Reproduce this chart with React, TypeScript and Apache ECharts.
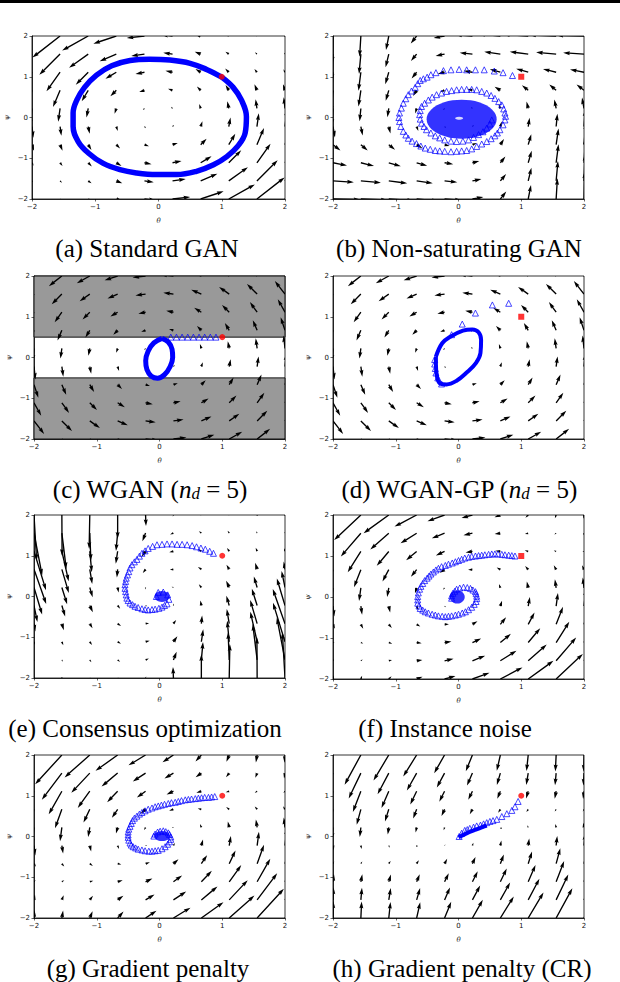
import React, { useEffect, useRef } from "react";
import * as echarts from "echarts";

// ---------- grid of the vector fields ----------
const THETA_COLS = [-2, -1.556, -1.111, -0.667, -0.222, 0.222, 0.667, 1.111, 1.556, 2];
const PSI_ROWS = [2, 1.556, 1.111, 0.667, 0.222, -0.222, -0.667, -1.111, -1.556, -2];
const AXIS_RANGE = [-2, 2];
const WGAN_CLIP = [0.5, -0.5];

// (a) Standard GAN
const A_U = [
  [-1.96, -1.91, -1.8, -1.58, -1.22, -0.78, -0.42, -0.2, -0.09, -0.04],
  [-1.49, -1.43, -1.32, -1.15, -0.91, -0.64, -0.41, -0.23, -0.13, -0.07],
  [-1.0, -0.94, -0.86, -0.75, -0.62, -0.49, -0.36, -0.25, -0.17, -0.11],
  [-0.53, -0.49, -0.45, -0.41, -0.36, -0.31, -0.26, -0.22, -0.17, -0.14],
  [-0.14, -0.13, -0.12, -0.12, -0.11, -0.11, -0.1, -0.1, -0.09, -0.09],
  [0.09, 0.09, 0.1, 0.1, 0.11, 0.11, 0.12, 0.12, 0.13, 0.14],
  [0.14, 0.17, 0.22, 0.26, 0.31, 0.36, 0.41, 0.45, 0.49, 0.53],
  [0.11, 0.17, 0.25, 0.36, 0.49, 0.62, 0.75, 0.86, 0.94, 1.0],
  [0.07, 0.13, 0.23, 0.41, 0.64, 0.91, 1.15, 1.32, 1.43, 1.49],
  [0.04, 0.09, 0.2, 0.42, 0.78, 1.22, 1.58, 1.8, 1.91, 1.96],
];
const A_V = [
  [-1.96, -1.49, -1.0, -0.53, -0.14, 0.09, 0.14, 0.11, 0.07, 0.04],
  [-1.91, -1.43, -0.94, -0.49, -0.13, 0.09, 0.17, 0.17, 0.13, 0.09],
  [-1.8, -1.32, -0.86, -0.45, -0.12, 0.1, 0.22, 0.25, 0.23, 0.2],
  [-1.58, -1.15, -0.75, -0.41, -0.12, 0.1, 0.26, 0.36, 0.41, 0.42],
  [-1.22, -0.91, -0.62, -0.36, -0.11, 0.11, 0.31, 0.49, 0.64, 0.78],
  [-0.78, -0.64, -0.49, -0.31, -0.11, 0.11, 0.36, 0.62, 0.91, 1.22],
  [-0.42, -0.41, -0.36, -0.26, -0.1, 0.12, 0.41, 0.75, 1.15, 1.58],
  [-0.2, -0.23, -0.25, -0.22, -0.1, 0.12, 0.45, 0.86, 1.32, 1.8],
  [-0.09, -0.13, -0.17, -0.17, -0.09, 0.13, 0.49, 0.94, 1.43, 1.91],
  [-0.04, -0.07, -0.11, -0.14, -0.09, 0.14, 0.53, 1.0, 1.49, 1.96],
];

// (b) Non-saturating GAN
const B_U = [
  [-0.04, -0.09, -0.2, -0.42, -0.78, -1.22, -1.58, -1.8, -1.91, -1.96],
  [-0.07, -0.13, -0.23, -0.41, -0.64, -0.91, -1.15, -1.32, -1.43, -1.49],
  [-0.11, -0.17, -0.25, -0.36, -0.49, -0.62, -0.75, -0.86, -0.94, -1.0],
  [-0.14, -0.17, -0.22, -0.26, -0.31, -0.36, -0.41, -0.45, -0.49, -0.53],
  [-0.09, -0.09, -0.1, -0.1, -0.11, -0.11, -0.12, -0.12, -0.13, -0.14],
  [0.14, 0.13, 0.12, 0.12, 0.11, 0.11, 0.1, 0.1, 0.09, 0.09],
  [0.53, 0.49, 0.45, 0.41, 0.36, 0.31, 0.26, 0.22, 0.17, 0.14],
  [1.0, 0.94, 0.86, 0.75, 0.62, 0.49, 0.36, 0.25, 0.17, 0.11],
  [1.49, 1.43, 1.32, 1.15, 0.91, 0.64, 0.41, 0.23, 0.13, 0.07],
  [1.96, 1.91, 1.8, 1.58, 1.22, 0.78, 0.42, 0.2, 0.09, 0.04],
];
const B_V = [
  [-1.96, -1.49, -1.0, -0.53, -0.14, 0.09, 0.14, 0.11, 0.07, 0.04],
  [-1.91, -1.43, -0.94, -0.49, -0.13, 0.09, 0.17, 0.17, 0.13, 0.09],
  [-1.8, -1.32, -0.86, -0.45, -0.12, 0.1, 0.22, 0.25, 0.23, 0.2],
  [-1.58, -1.15, -0.75, -0.41, -0.12, 0.1, 0.26, 0.36, 0.41, 0.42],
  [-1.22, -0.91, -0.62, -0.36, -0.11, 0.11, 0.31, 0.49, 0.64, 0.78],
  [-0.78, -0.64, -0.49, -0.31, -0.11, 0.11, 0.36, 0.62, 0.91, 1.22],
  [-0.42, -0.41, -0.36, -0.26, -0.1, 0.12, 0.41, 0.75, 1.15, 1.58],
  [-0.2, -0.23, -0.25, -0.22, -0.1, 0.12, 0.45, 0.86, 1.32, 1.8],
  [-0.09, -0.13, -0.17, -0.17, -0.09, 0.13, 0.49, 0.94, 1.43, 1.91],
  [-0.04, -0.07, -0.11, -0.14, -0.09, 0.14, 0.53, 1.0, 1.49, 1.96],
];

// (c) WGAN and (d) WGAN-GP
const C_U = [
  [-2, -2, -2, -2, -2, -2, -2, -2, -2, -2],
  [-1.56, -1.56, -1.56, -1.56, -1.56, -1.56, -1.56, -1.56, -1.56, -1.56],
  [-1.11, -1.11, -1.11, -1.11, -1.11, -1.11, -1.11, -1.11, -1.11, -1.11],
  [-0.67, -0.67, -0.67, -0.67, -0.67, -0.67, -0.67, -0.67, -0.67, -0.67],
  [-0.22, -0.22, -0.22, -0.22, -0.22, -0.22, -0.22, -0.22, -0.22, -0.22],
  [0.22, 0.22, 0.22, 0.22, 0.22, 0.22, 0.22, 0.22, 0.22, 0.22],
  [0.67, 0.67, 0.67, 0.67, 0.67, 0.67, 0.67, 0.67, 0.67, 0.67],
  [1.11, 1.11, 1.11, 1.11, 1.11, 1.11, 1.11, 1.11, 1.11, 1.11],
  [1.56, 1.56, 1.56, 1.56, 1.56, 1.56, 1.56, 1.56, 1.56, 1.56],
  [2, 2, 2, 2, 2, 2, 2, 2, 2, 2],
];
const C_V = [
  [-2, -1.56, -1.11, -0.67, -0.22, 0.22, 0.67, 1.11, 1.56, 2],
  [-2, -1.56, -1.11, -0.67, -0.22, 0.22, 0.67, 1.11, 1.56, 2],
  [-2, -1.56, -1.11, -0.67, -0.22, 0.22, 0.67, 1.11, 1.56, 2],
  [-2, -1.56, -1.11, -0.67, -0.22, 0.22, 0.67, 1.11, 1.56, 2],
  [-2, -1.56, -1.11, -0.67, -0.22, 0.22, 0.67, 1.11, 1.56, 2],
  [-2, -1.56, -1.11, -0.67, -0.22, 0.22, 0.67, 1.11, 1.56, 2],
  [-2, -1.56, -1.11, -0.67, -0.22, 0.22, 0.67, 1.11, 1.56, 2],
  [-2, -1.56, -1.11, -0.67, -0.22, 0.22, 0.67, 1.11, 1.56, 2],
  [-2, -1.56, -1.11, -0.67, -0.22, 0.22, 0.67, 1.11, 1.56, 2],
  [-2, -1.56, -1.11, -0.67, -0.22, 0.22, 0.67, 1.11, 1.56, 2],
];

// (e) Consensus optimization
const E_U = [
  [0.24, 0.02, -0.06, 0.0, 0.04, -0.06, -0.14, -0.12, -0.07, -0.03],
  [0.74, 0.4, 0.1, -0.15, -0.29, -0.3, -0.23, -0.15, -0.09, -0.05],
  [1.09, 0.62, 0.18, -0.17, -0.36, -0.38, -0.3, -0.2, -0.13, -0.08],
  [1.11, 0.63, 0.22, -0.07, -0.25, -0.32, -0.31, -0.25, -0.18, -0.12],
  [0.74, 0.48, 0.26, 0.09, -0.05, -0.16, -0.23, -0.28, -0.3, -0.31],
  [0.31, 0.3, 0.28, 0.23, 0.16, 0.05, -0.09, -0.26, -0.48, -0.74],
  [0.12, 0.18, 0.25, 0.31, 0.32, 0.25, 0.07, -0.22, -0.63, -1.11],
  [0.08, 0.13, 0.2, 0.3, 0.38, 0.36, 0.17, -0.18, -0.62, -1.09],
  [0.05, 0.09, 0.15, 0.23, 0.3, 0.29, 0.15, -0.1, -0.4, -0.74],
  [0.03, 0.07, 0.12, 0.14, 0.06, -0.04, 0.0, 0.06, -0.02, -0.24],
];
const E_V = [
  [-4.17, -3.72, -3.09, -2.17, -1.01, -0.14, 0.16, 0.14, 0.08, 0.04],
  [-3.85, -3.26, -2.51, -1.62, -0.74, -0.12, 0.16, 0.21, 0.16, 0.11],
  [-3.54, -2.74, -1.9, -1.13, -0.51, -0.09, 0.18, 0.3, 0.32, 0.28],
  [-3.16, -2.15, -1.33, -0.74, -0.33, -0.03, 0.21, 0.42, 0.59, 0.7],
  [-2.47, -1.53, -0.89, -0.47, -0.18, 0.06, 0.3, 0.6, 0.99, 1.5],
  [-1.5, -0.99, -0.6, -0.3, -0.06, 0.18, 0.47, 0.89, 1.53, 2.47],
  [-0.7, -0.59, -0.42, -0.21, 0.03, 0.33, 0.74, 1.33, 2.15, 3.16],
  [-0.28, -0.32, -0.3, -0.18, 0.09, 0.51, 1.13, 1.9, 2.74, 3.54],
  [-0.11, -0.16, -0.21, -0.16, 0.12, 0.74, 1.62, 2.51, 3.26, 3.85],
  [-0.04, -0.08, -0.14, -0.16, 0.14, 1.01, 2.17, 3.09, 3.72, 4.17],
];

// (f) Instance noise (theta component equals A_U)
const F_V = [
  [-2.26, -1.79, -1.3, -0.83, -0.44, -0.21, -0.16, -0.19, -0.23, -0.26],
  [-2.14, -1.66, -1.17, -0.72, -0.36, -0.14, -0.06, -0.06, -0.1, -0.14],
  [-1.97, -1.49, -1.03, -0.62, -0.29, -0.07, 0.05, 0.08, 0.06, 0.03],
  [-1.68, -1.25, -0.85, -0.51, -0.22, 0.0, 0.16, 0.26, 0.31, 0.32],
  [-1.25, -0.94, -0.65, -0.39, -0.14, 0.08, 0.28, 0.46, 0.61, 0.75],
  [-0.75, -0.61, -0.46, -0.28, -0.08, 0.14, 0.39, 0.65, 0.94, 1.25],
  [-0.32, -0.31, -0.26, -0.16, 0.0, 0.22, 0.51, 0.85, 1.25, 1.68],
  [-0.03, -0.06, -0.08, -0.05, 0.07, 0.29, 0.62, 1.03, 1.49, 1.97],
  [0.14, 0.1, 0.06, 0.06, 0.14, 0.36, 0.72, 1.17, 1.66, 2.14],
  [0.26, 0.23, 0.19, 0.16, 0.21, 0.44, 0.83, 1.3, 1.79, 2.26],
];

// (g) Gradient penalty (theta component equals A_U)
const G_V = [
  [-2.56, -2.09, -1.6, -1.13, -0.74, -0.51, -0.46, -0.49, -0.53, -0.56],
  [-2.38, -1.9, -1.41, -0.96, -0.6, -0.38, -0.3, -0.3, -0.34, -0.38],
  [-2.13, -1.65, -1.19, -0.78, -0.45, -0.23, -0.11, -0.08, -0.1, -0.13],
  [-1.78, -1.35, -0.95, -0.61, -0.32, -0.1, 0.06, 0.16, 0.21, 0.22],
  [-1.29, -0.98, -0.69, -0.43, -0.18, 0.04, 0.24, 0.42, 0.57, 0.71],
  [-0.71, -0.57, -0.42, -0.24, -0.04, 0.18, 0.43, 0.69, 0.98, 1.29],
  [-0.22, -0.21, -0.16, -0.06, 0.1, 0.32, 0.61, 0.95, 1.35, 1.78],
  [0.13, 0.1, 0.08, 0.11, 0.23, 0.45, 0.78, 1.19, 1.65, 2.13],
  [0.38, 0.34, 0.3, 0.3, 0.38, 0.6, 0.96, 1.41, 1.9, 2.38],
  [0.56, 0.53, 0.49, 0.46, 0.51, 0.74, 1.13, 1.6, 2.09, 2.56],
];

// (h) Gradient penalty (CR) (theta component equals A_U)
const H_V = [
  [-3.96, -3.49, -3.0, -2.53, -2.14, -1.91, -1.86, -1.89, -1.93, -1.96],
  [-3.47, -2.99, -2.5, -2.05, -1.69, -1.47, -1.39, -1.39, -1.43, -1.47],
  [-2.91, -2.43, -1.97, -1.56, -1.23, -1.01, -0.89, -0.86, -0.88, -0.91],
  [-2.25, -1.82, -1.42, -1.08, -0.79, -0.57, -0.41, -0.31, -0.26, -0.25],
  [-1.44, -1.13, -0.84, -0.58, -0.33, -0.11, 0.09, 0.27, 0.42, 0.56],
  [-0.56, -0.42, -0.27, -0.09, 0.11, 0.33, 0.58, 0.84, 1.13, 1.44],
  [0.25, 0.26, 0.31, 0.41, 0.57, 0.79, 1.08, 1.42, 1.82, 2.25],
  [0.91, 0.88, 0.86, 0.89, 1.01, 1.23, 1.56, 1.97, 2.43, 2.91],
  [1.47, 1.43, 1.39, 1.39, 1.47, 1.69, 2.05, 2.5, 2.99, 3.47],
  [1.96, 1.93, 1.89, 1.86, 1.91, 2.14, 2.53, 3.0, 3.49, 3.96],
];

// ---------- trajectories ----------
const A_LOOP = [
  [1.0, 0.99], [1.18, 0.74], [1.31, 0.43], [1.39, 0.02], [1.37, -0.38], [1.25, -0.71], [1.08, -0.96],
  [0.87, -1.16], [0.6, -1.32], [0.29, -1.4], [-0.03, -1.4], [-0.35, -1.36], [-0.61, -1.28], [-0.88, -1.12],
  [-1.11, -0.87], [-1.27, -0.59], [-1.35, -0.22], [-1.35, 0.11], [-1.29, 0.43], [-1.17, 0.74], [-0.98, 1.04],
  [-0.74, 1.27], [-0.45, 1.4], [-0.14, 1.43], [0.18, 1.41], [0.5, 1.33], [0.76, 1.18], [1.0, 0.99],
];
const B_PATH = [
  [0.86, 1.03], [0.71, 1.1], [0.57, 1.14], [0.41, 1.17], [0.27, 1.17], [0.13, 1.17], [0.01, 1.18], [-0.12, 1.17],
  [-0.24, 1.15], [-0.36, 1.1], [-0.44, 1.05], [-0.5, 0.99], [-0.56, 0.95], [-0.61, 0.91], [-0.65, 0.83], [-0.69, 0.74],
  [-0.75, 0.65], [-0.8, 0.56], [-0.84, 0.46], [-0.88, 0.35], [-0.91, 0.23], [-0.94, 0.11], [-0.95, 0.0], [-0.94, -0.1],
  [-0.92, -0.22], [-0.88, -0.34], [-0.84, -0.43], [-0.8, -0.51], [-0.74, -0.58], [-0.67, -0.64], [-0.6, -0.7],
  [-0.53, -0.75], [-0.45, -0.78], [-0.37, -0.81], [-0.3, -0.82], [-0.22, -0.83], [-0.12, -0.84], [-0.03, -0.83],
  [0.05, -0.82], [0.13, -0.81], [0.21, -0.77], [0.29, -0.71], [0.37, -0.65], [0.45, -0.59], [0.52, -0.52],
  [0.58, -0.45], [0.62, -0.38], [0.66, -0.3], [0.71, -0.18], [0.74, -0.06], [0.75, 0.03], [0.74, 0.11], [0.72, 0.21],
  [0.69, 0.31], [0.64, 0.39], [0.58, 0.47], [0.52, 0.54], [0.45, 0.6], [0.37, 0.64], [0.29, 0.68], [0.21, 0.69],
  [0.13, 0.69], [0.05, 0.69], [-0.03, 0.68], [-0.11, 0.66], [-0.19, 0.64], [-0.27, 0.6], [-0.35, 0.56], [-0.42, 0.5],
  [-0.48, 0.43], [-0.54, 0.35], [-0.59, 0.27], [-0.61, 0.17], [-0.62, 0.07], [-0.61, -0.04], [-0.59, -0.14],
  [-0.55, -0.22], [-0.51, -0.3], [-0.44, -0.38], [-0.37, -0.45], [-0.3, -0.5], [-0.22, -0.55], [-0.12, -0.58],
  [-0.03, -0.59], [0.07, -0.58], [0.16, -0.55], [0.24, -0.49], [0.32, -0.42], [0.39, -0.35], [0.45, -0.26],
  [0.5, -0.16], [0.53, -0.06],
];
const B_CORE = [0.05, -0.04];
const B_HOLE = [0.01, -0.02];
const C_PATH = [[0.9, 0.5], [0.81, 0.5], [0.72, 0.5], [0.63, 0.5], [0.54, 0.5], [0.45, 0.5], [0.36, 0.5], [0.27, 0.5], [0.18, 0.5]];
const C_LOOP = [
  [0.04, 0.47], [0.14, 0.38], [0.2, 0.2], [0.21, 0.0], [0.17, -0.22], [0.08, -0.42], [-0.03, -0.51],
  [-0.13, -0.46], [-0.2, -0.3], [-0.22, -0.08], [-0.18, 0.16], [-0.09, 0.36], [0.04, 0.47],
];
const D_PATH = [
  [0.8, 1.33], [0.54, 1.29], [0.27, 1.09], [0.06, 0.82], [-0.11, 0.56], [-0.38, -0.05], [-0.38, -0.16],
  [-0.37, -0.27], [-0.36, -0.38], [-0.33, -0.5], [-0.27, -0.65],
];
const D_LOOP = [
  [-0.36, 0.02], [-0.26, 0.35], [-0.13, 0.51], [0.07, 0.66], [0.22, 0.69], [0.32, 0.62], [0.36, 0.43],
  [0.35, 0.11], [0.28, -0.13], [0.13, -0.37], [-0.03, -0.57], [-0.19, -0.66], [-0.29, -0.64], [-0.34, -0.49],
  [-0.36, -0.18], [-0.36, 0.02],
];
const E_PATH = [
  [0.86, 1.06], [0.8, 1.11], [0.73, 1.16], [0.66, 1.19], [0.59, 1.22], [0.52, 1.25], [0.44, 1.27], [0.36, 1.28],
  [0.28, 1.28], [0.2, 1.29], [0.12, 1.29], [0.04, 1.28], [-0.04, 1.27], [-0.11, 1.23], [-0.18, 1.18], [-0.23, 1.12],
  [-0.28, 1.06], [-0.32, 0.99], [-0.36, 0.91], [-0.4, 0.85], [-0.44, 0.78], [-0.47, 0.7], [-0.49, 0.61],
  [-0.51, 0.53], [-0.53, 0.45], [-0.54, 0.37], [-0.55, 0.29], [-0.55, 0.2], [-0.54, 0.12], [-0.53, 0.04],
  [-0.52, -0.04], [-0.5, -0.1], [-0.47, -0.16], [-0.43, -0.2], [-0.39, -0.24], [-0.34, -0.27], [-0.28, -0.3],
  [-0.23, -0.32], [-0.18, -0.33], [-0.12, -0.32], [-0.07, -0.31], [-0.01, -0.29], [0.04, -0.26], [0.08, -0.22],
  [0.12, -0.18], [0.15, -0.07], [0.13, 0.04], [0.06, 0.11], [-0.02, 0.1], [-0.05, 0.0],
];
const E_CORE = [0.04, 0.0];
const F_PATH = [
  [0.9, 1.0], [0.85, 1.01], [0.8, 1.02], [0.74, 1.03], [0.69, 1.04], [0.63, 1.05], [0.58, 1.05], [0.53, 1.05],
  [0.48, 1.04], [0.42, 1.03], [0.37, 1.02], [0.32, 1.01], [0.27, 1.0], [0.21, 0.99], [0.16, 0.97], [0.1, 0.95],
  [0.05, 0.92], [0.0, 0.89], [-0.05, 0.86], [-0.1, 0.83], [-0.16, 0.8], [-0.21, 0.77], [-0.27, 0.74], [-0.32, 0.7],
  [-0.36, 0.66], [-0.4, 0.61], [-0.44, 0.56], [-0.47, 0.51], [-0.5, 0.46], [-0.54, 0.4], [-0.57, 0.33],
  [-0.6, 0.26], [-0.62, 0.19], [-0.64, 0.1], [-0.65, 0.01], [-0.65, -0.07], [-0.65, -0.15], [-0.63, -0.22],
  [-0.61, -0.28], [-0.57, -0.32], [-0.53, -0.36], [-0.48, -0.39], [-0.42, -0.42], [-0.37, -0.44], [-0.32, -0.46],
  [-0.26, -0.47], [-0.21, -0.48], [-0.16, -0.47], [-0.11, -0.46], [-0.05, -0.44], [0.0, -0.42], [0.06, -0.39],
  [0.11, -0.36], [0.16, -0.31], [0.21, -0.25], [0.25, -0.18], [0.28, -0.11], [0.29, -0.04], [0.29, 0.02],
  [0.28, 0.08], [0.27, 0.13], [0.23, 0.17], [0.19, 0.21], [0.14, 0.23], [0.08, 0.24], [0.02, 0.22], [-0.03, 0.19],
  [-0.06, 0.14], [-0.09, 0.09], [-0.11, 0.03], [-0.11, -0.03],
];
const F_CORE = [-0.02, 0.0];
const G_PATH = [
  [0.88, 0.98], [0.83, 0.97], [0.78, 0.96], [0.72, 0.96], [0.67, 0.95], [0.62, 0.94], [0.57, 0.93], [0.51, 0.92],
  [0.46, 0.91], [0.41, 0.9], [0.35, 0.88], [0.3, 0.86], [0.25, 0.84], [0.19, 0.83], [0.14, 0.81], [0.08, 0.79],
  [0.03, 0.77], [-0.02, 0.75], [-0.07, 0.73], [-0.12, 0.7], [-0.18, 0.67], [-0.23, 0.63], [-0.28, 0.59],
  [-0.32, 0.55], [-0.36, 0.5], [-0.4, 0.45], [-0.43, 0.39], [-0.45, 0.32], [-0.47, 0.25], [-0.49, 0.18],
  [-0.5, 0.11], [-0.5, 0.04], [-0.5, -0.02], [-0.49, -0.09], [-0.47, -0.16], [-0.45, -0.21], [-0.42, -0.25],
  [-0.38, -0.28], [-0.34, -0.31], [-0.28, -0.33], [-0.23, -0.35], [-0.17, -0.36], [-0.12, -0.36], [-0.07, -0.35],
  [-0.02, -0.34], [0.04, -0.3], [0.09, -0.25], [0.13, -0.19], [0.16, -0.13], [0.18, -0.07], [0.18, -0.01],
  [0.16, 0.05], [0.14, 0.09], [0.1, 0.12], [0.06, 0.14], [0.01, 0.13], [-0.03, 0.11], [-0.07, 0.06], [-0.09, 0.01],
];
const G_CORE = [0.04, 0.01];
const H_PATH = [
  [0.95, 0.86], [0.9, 0.73], [0.85, 0.64], [0.77, 0.56], [0.69, 0.49], [0.61, 0.42], [0.55, 0.39], [0.5, 0.37],
  [0.45, 0.34], [0.4, 0.31], [0.35, 0.28], [0.29, 0.26], [0.24, 0.23], [0.18, 0.2], [0.14, 0.17], [0.1, 0.15],
  [0.05, 0.08], [0.01, 0.0],
];
const H_BAND = [[0.0, -0.02], [0.08, 0.04], [0.16, 0.1], [0.26, 0.16], [0.36, 0.22], [0.45, 0.27]];
const START_A = [1, 1];
const START_C = [1, 0.5];

// ---------- styling / layout ----------
const FONT_SANS = "DejaVu Sans";
const FONT_SERIF = "Liberation Serif";
const BLUE = "#0000ff";
const RED = "#ff0000";

const PANELS: any[] = [
  { left: 32, top: 36, width: 253, height: 163, U: A_U, V: A_V, k: 14.5, path: [], loops: [{ d: A_LOOP, w: 5.5 }], blobs: [], start: START_A, sym: "circle", cap: "(a) Standard GAN", cx: 147, cy: 248 },
  { left: 333, top: 36, width: 251, height: 163, U: B_U, V: B_V, k: 14, path: B_PATH, loops: [], blobs: [{ at: B_CORE, size: [70, 39], color: BLUE }, { at: B_HOLE, size: [8, 3], color: "#ffffff" }], start: START_A, sym: "rect", cap: "(b) Non-saturating GAN", cx: 459, cy: 248 },
  { left: 34, top: 276, width: 251, height: 163, U: C_U, V: C_V, k: 6.5, path: C_PATH, loops: [{ d: C_LOOP, w: 5 }], blobs: [], start: START_C, sym: "circle", cap: "(c) WGAN ({i|n}{s|d} = 5)", cx: 150, cy: 489, bands: true },
  { left: 333, top: 276, width: 251, height: 163, U: C_U, V: C_V, k: 6.5, path: D_PATH, loops: [{ d: D_LOOP, w: 4 }], blobs: [], start: START_A, sym: "rect", cap: "(d) WGAN-GP ({i|n}{s|d} = 5)", cx: 459, cy: 489 },
  { left: 34, top: 515, width: 251, height: 163, U: E_U, V: E_V, k: 11, path: E_PATH, loops: [], blobs: [{ at: E_CORE, size: [15, 11], color: BLUE }], start: START_A, sym: "circle", cap: "(e) Consensus optimization", cx: 145, cy: 728 },
  { left: 333, top: 515, width: 251, height: 164, U: A_U, V: F_V, k: 14, path: F_PATH, loops: [], blobs: [{ at: F_CORE, size: [15, 13], color: BLUE }], start: START_A, sym: "rect", cap: "(f) Instance noise", cx: 445, cy: 728 },
  { left: 34, top: 755, width: 251, height: 163, U: A_U, V: G_V, k: 14, path: G_PATH, loops: [], blobs: [{ at: G_CORE, size: [16, 10], color: BLUE }], start: START_A, sym: "circle", cap: "(g) Gradient penalty", cx: 148, cy: 968 },
  { left: 333, top: 755, width: 251, height: 163, U: A_U, V: H_V, k: 8.5, path: H_PATH, loops: [{ d: H_BAND, w: 4 }], blobs: [], start: START_A, sym: "circle", cap: "(h) Gradient penalty (CR)", cx: 462, cy: 968 },
];

function fmtTick(v: number) {
  return v < 0 ? "\u2212" + Math.abs(v) : String(v);
}

function arrowData(U: number[][], V: number[][]) {
  const out: number[][] = [];
  PSI_ROWS.forEach((psi, i) => {
    THETA_COLS.forEach((th, j) => {
      out.push([th, psi, U[i][j], V[i][j]]);
    });
  });
  return out;
}

function arrowRenderer(k: number) {
  return (params: any, api: any) => {
    const p = api.coord([api.value(0), api.value(1)]);
    const dx = api.value(2) * k;
    const dy = -api.value(3) * k;
    const L = Math.sqrt(dx * dx + dy * dy);
    if (L < 1.2) {
      return { type: "circle", shape: { cx: p[0], cy: p[1], r: 0.7 }, style: { fill: "#000" } };
    }
    const W = 1.35;
    const HL = 5 * W;
    const HA = 4.5 * W;
    const HW = 3 * W;
    const f = L >= HL ? 1 : L / HL;
    const Lp = L / f;
    const c = dx / L;
    const s = dy / L;
    const local = [
      [0, -W / 2], [Lp - HA, -W / 2], [Lp - HL, -HW / 2], [Lp, 0],
      [Lp - HL, HW / 2], [Lp - HA, W / 2], [0, W / 2],
    ];
    const pts = local.map(([a, b]) => {
      const aa = a * f;
      const bb = b * f;
      return [p[0] + aa * c - bb * s, p[1] + aa * s + bb * c];
    });
    return { type: "polygon", shape: { points: pts }, style: { fill: "#000" } };
  };
}

function buildOption() {
  const grid: any[] = [];
  const xAxis: any[] = [];
  const yAxis: any[] = [];
  const series: any[] = [];
  const graphics: any[] = [
    { type: "rect", shape: { x: 0, y: 0, width: 620, height: 3 }, style: { fill: "#000" }, silent: true },
  ];
  const labelStyle = { fontSize: 7, color: "#111", fontFamily: FONT_SANS };
  PANELS.forEach((p, i) => {
    grid.push({ left: p.left, top: p.top, width: p.width, height: p.height, show: true, borderColor: "#000", borderWidth: 0.8, backgroundColor: "rgba(0,0,0,0)" });
    const common = {
      gridIndex: i, type: "value", min: AXIS_RANGE[0], max: AXIS_RANGE[1], interval: 1,
      nameLocation: "middle",
      nameTextStyle: { fontSize: 7, fontStyle: "italic", fontFamily: "DejaVu Serif", color: "#222" },
      axisLine: { show: true, onZero: false, lineStyle: { color: "#000", width: 0.8 } },
      axisTick: { show: true, length: 2.5, lineStyle: { color: "#000", width: 0.6 } },
      axisLabel: { ...labelStyle, margin: 4, formatter: fmtTick },
      splitLine: { show: false },
    };
    xAxis.push({ ...common, name: "θ", nameGap: 18 });
    yAxis.push({ ...common, name: "ψ", nameGap: 22 });
    const ax = { xAxisIndex: i, yAxisIndex: i };
    if (p.bands) {
      series.push({
        type: "line", ...ax, data: [], z: 1, silent: true, symbol: "none",
        markArea: {
          silent: true,
          itemStyle: { color: "#999999", borderColor: "#111", borderWidth: 1 },
          data: [
            [{ yAxis: WGAN_CLIP[0] }, { yAxis: AXIS_RANGE[1] }],
            [{ yAxis: AXIS_RANGE[0] }, { yAxis: WGAN_CLIP[1] }],
          ],
        },
      });
    }
    series.push({ type: "custom", ...ax, renderItem: arrowRenderer(p.k), data: arrowData(p.U, p.V), clip: true, z: 2, silent: true });
    p.loops.forEach((l: any) => {
      series.push({ type: "line", ...ax, data: l.d, symbol: "none", showSymbol: false, smooth: 0.4, lineStyle: { color: BLUE, width: l.w }, z: 3, silent: true });
    });
    p.blobs.forEach((b: any) => {
      series.push({ type: "scatter", ...ax, data: [b.at], symbol: "circle", symbolSize: b.size, itemStyle: { color: b.color }, z: 3, silent: true });
    });
    if (p.path.length) {
      series.push({ type: "scatter", ...ax, data: p.path, symbol: "triangle", symbolSize: 6, itemStyle: { color: "rgba(0,0,0,0)", borderColor: BLUE, borderWidth: 0.9 }, z: 4, silent: true });
    }
    series.push({ type: "scatter", ...ax, data: [p.start], symbol: p.sym, symbolSize: 6, itemStyle: { color: RED }, z: 5, silent: true });

    graphics.push({
      type: "text", x: p.cx, y: p.cy, silent: true,
      style: {
        text: p.cap, fill: "#000", fontSize: 25, fontFamily: FONT_SERIF, font: "25px 'Liberation Serif'",
        align: "center", verticalAlign: "middle", textAlign: "center", textVerticalAlign: "middle",
        rich: {
          i: { fontSize: 25, fontStyle: "italic", fontFamily: FONT_SERIF },
          s: { fontSize: 17, fontStyle: "italic", fontFamily: FONT_SERIF, verticalAlign: "bottom", lineHeight: 12 },
        },
      },
    });
  });
  return {
    animation: false,
    backgroundColor: "#ffffff",
    textStyle: { fontFamily: FONT_SANS },
    grid, xAxis, yAxis, series,
    graphic: { elements: graphics },
  };
}

export default function App() {
  const ref = useRef<HTMLDivElement>(null);
  useEffect(() => {
    if (!ref.current) return;
    const chart = echarts.init(ref.current, undefined, { renderer: "svg" });
    chart.setOption(buildOption() as any);
    return () => chart.dispose();
  }, []);
  return <div ref={ref} style={{ position: "absolute", left: 0, top: 0, width: 620, height: 982, background: "#fff" }} />;
}
